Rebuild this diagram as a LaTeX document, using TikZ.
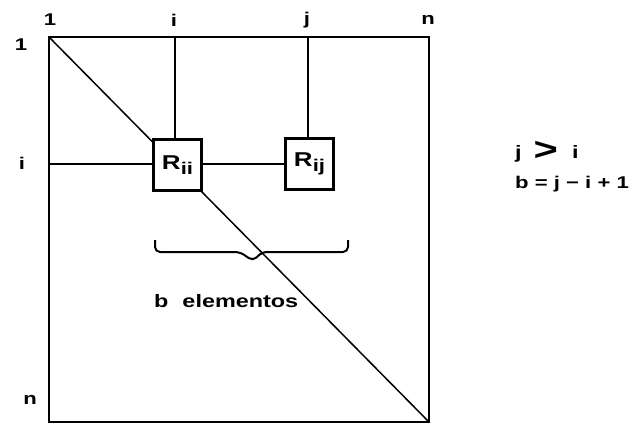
\documentclass[tikz,border=0pt]{standalone}
\usepackage{fontspec}
\setmainfont{Liberation Sans}
\newfontfamily\wf[FakeStretch=1.3]{Liberation Sans}
\begin{document}
\begin{tikzpicture}[x=1pt,y=-1pt,
  lbl/.style={font=\wf\bfseries\fontsize{17}{17}\selectfont, inner sep=0pt},
  elem/.style={draw, line width=2.6pt, fill=white, minimum width=48pt, minimum height=51pt, inner sep=0pt, font=\wf\bfseries\fontsize{20}{20}\selectfont},
  thin/.style={line width=1.5pt},
  frame/.style={line width=2.2pt}]
\useasboundingbox (0,0) rectangle (644,426);
\coordinate (tl) at (49,37);
\coordinate (tr) at (429,37);
\coordinate (br) at (429,422);
\coordinate (bl) at (49,422);
\draw[frame] (tl) -- (tr) -- (br) -- (bl) -- cycle;
\draw[thin] (tl) -- (br);
% top labels
\node[lbl] (t1) at (50,20) {1};
\node[lbl] (ti) at (174,20) {i};
\node[lbl] (tj) at (307,20) {j};
\node[lbl] (tn) at (428,20) {n};
% left labels
\node[lbl] (l1) at (21,45) {1};
\node[lbl] (li) at (22,163) {i};
\node[lbl] (ln) at (30,400) {n};
% guide coordinates
\coordinate (ci) at (175,37);
\coordinate (cj) at (308,37);
\coordinate (cl) at (49,164);
% boxes
\node[elem] (rii) at (177.5,165) {R\raisebox{-5pt}{\fontsize{17}{17}\selectfont ii}};
\node[elem] (rij) at (309.5,164) {R\raisebox{-5pt}{\fontsize{17}{17}\selectfont ij}};
\draw[thin] (ci) -- (ci |- rii.north);
\draw[thin] (cj) -- (cj |- rij.north);
\draw[thin] (cl) -- (rii.west |- cl);
\draw[thin] (rii.east |- cl) -- (rij.west |- cl);
% brace
\coordinate (b1) at (155,240);
\coordinate (b2) at (348,240);
\draw[line width=2pt, line join=round, rounded corners=5pt]
  (b1) -- (155,252) -- (240,252) -- (253,261) -- (262,252) -- (348,252) -- (b2);
\node[lbl, anchor=west, font=\wf\bfseries\fontsize{18}{18}\selectfont] (be) at (154,301) {b\hspace{14pt}elementos};
% right
\node[lbl, anchor=west, font=\wf\bfseries\fontsize{18}{18}\selectfont] (r1) at (515,152) {j\hspace{12pt}\raisebox{-1.5pt}{\fontsize{32}{32}\selectfont >}\hspace{14pt}i};
\node[lbl, anchor=west, font=\wf\bfseries\fontsize{17}{17}\selectfont] (r2) at (515,184) {b = j − i + 1};
\end{tikzpicture}
\end{document}
